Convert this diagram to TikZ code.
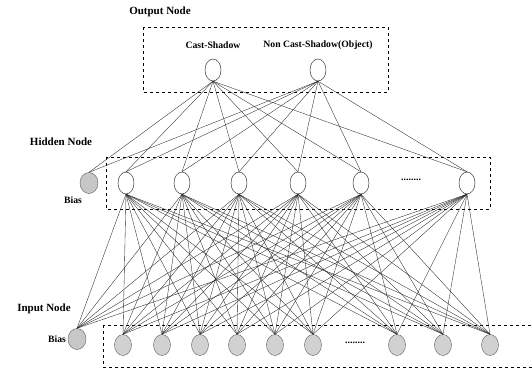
\documentclass[tikz,border=0pt]{standalone}
\usepackage{fontspec}
\setmainfont{Liberation Serif}
\usetikzlibrary{shapes.geometric,patterns}
\begin{document}
\begin{tikzpicture}[x=1pt,y=-1pt,
  neuron/.style={ellipse,draw=black!85,line width=0.45pt,fill=white,minimum width=16pt,minimum height=22pt,inner sep=0pt},
  innode/.style={ellipse,draw=black!60,line width=0.45pt,fill=black!18,minimum width=17pt,minimum height=21pt,inner sep=0pt},
  biasnode/.style={ellipse,draw=black!60,line width=0.45pt,fill=black!22,minimum width=18pt,minimum height=21pt,inner sep=0pt},
  conn/.style={black!85,line width=0.35pt},
  layerbox/.style={draw=black,dashed,line width=0.7pt},
  head/.style={font=\bfseries\fontsize{11}{13}\selectfont},
  lbl/.style={font=\bfseries\fontsize{9.7}{11}\selectfont},
  dots/.style={font=\bfseries\fontsize{10}{11}\selectfont}]
\useasboundingbox (0,0) rectangle (532,370);
% boxes
\draw[layerbox] (143,27) rectangle (388,92);
\draw[layerbox] (106,157) rectangle (490,209);
\draw[layerbox] (103,325) rectangle (545,367);
% labels
\node[head] (lout) at (160,12) {Output Node};
\node[head] (lhid) at (61,142) {Hidden Node};
\node[head] (linp) at (44,309) {Input Node};
\node[lbl] (lcast) at (213,45) {Cast-Shadow};
\node[lbl] (lnon) at (318,45) {Non Cast-Shadow(Object)};
\node[lbl] (lhb) at (73,200) {Bias};
\node[lbl] (lib) at (57,339) {Bias};
\node[dots] (hdots) at (411,180) {........};
\node[dots] (idots) at (355,343) {........};
% output nodes
\node[neuron] (o1) at (213,70) {};
\node[neuron] (o2) at (318,70) {};
% hidden nodes
\node[biasnode] (h0) at (89,183) {};
\foreach \i/\x in {1/126,2/182,3/239,4/298,5/361,6/467}
  \node[neuron] (h\i) at (\x,183) {};
% input nodes
\node[biasnode] (i0) at (77,339) {};
\foreach \i/\x in {1/123,2/162,3/200,4/237,5/275,6/313,7/397,8/443,9/490}
  \node[innode] (i\i) at (\x,345) {};
% connections hidden -> output
\foreach \h in {0,...,6}
  \foreach \o in {1,2}
    \draw[conn] (h\h.north) -- (o\o.south);
% connections input -> hidden
\foreach \h in {1,...,6}
  \foreach \i in {0,...,9}
    \draw[conn] (i\i.north) -- (h\h.south);
\end{tikzpicture}
\end{document}
